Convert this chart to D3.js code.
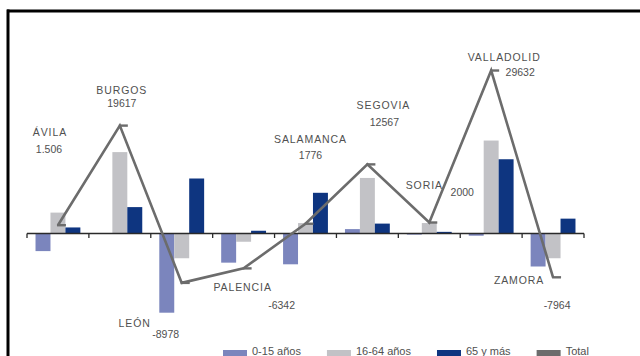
<!DOCTYPE html>
<html>
<head>
<meta charset="utf-8">
<script src="https://cdn.jsdelivr.net/npm/d3@7"></script>
<style>
  html, body { margin: 0; padding: 0; background: #fff; }
  svg { display: block; }
  text { font-family: "Liberation Sans", Arial, sans-serif; fill: #505050; }
</style>
</head>
<body>
<svg id="chart" width="640" height="356"></svg>
<script>
// Variación de población por provincia y grupo de edad
const provinces = ["ÁVILA", "BURGOS", "LEÓN", "PALENCIA", "SALAMANCA", "SEGOVIA", "SORIA", "VALLADOLID", "ZAMORA"];
const age0to15  = [-3200, 0, -14400, -5300, -5600, 800, -200, -400, -6000];
const age16to64 = [3800, 14800, -4500, -1500, 1900, 10100, 1900, 16900, -4500];
const age65plus = [1100, 4800, 10000, 500, 7400, 1800, 300, 13500, 2700];
const totals    = [1506, 19617, -8978, -6342, 1776, 12567, 2000, 29632, -7964];
const totalText = ["1.506", "19617", "-8978", "-6342", "1776", "12567", "2000", "29632", "-7964"];

const seriesKeys   = ["0-15 años", "16-64 años", "65 y más"];
const seriesValues = [age0to15, age16to64, age65plus];
const seriesColors = ["#7b85bd", "#c2c2c6", "#0e3580"];
const totalColor   = "#6c6c6c";

// label placement relative to each point of the total line: [name dx, name dy, value dx, value dy]
const labelOffsets = [
  [-8, -89, -9, -72],
  [2, -32, 2, -19],
  [-47, 44, -16, 55],
  [-1, 23, 38, 41],
  [5, -81, 5, -65],
  [16, -55, 17, -38],
  [-5, -34, 33, -27],
  [13, -10, 29, 5],
  [-34, 7, 4, 32]
];

const svg = d3.select("#chart");

// frame lines (top and left)
svg.append("line").attr("x1", 7).attr("x2", 640).attr("y1", 11).attr("y2", 11)
  .attr("stroke", "#000").attr("stroke-width", 3);
svg.append("line").attr("x1", 8).attr("x2", 8).attr("y1", 9.5).attr("y2", 356)
  .attr("stroke", "#000").attr("stroke-width", 3);

const x0 = d3.scaleBand().domain(provinces).range([27, 584]).padding(0);
const x1 = d3.scaleBand().domain(seriesKeys).range([0, x0.bandwidth()]).paddingInner(0).paddingOuter(0.57);
const y = d3.scaleLinear().domain([-18000, 36000]).range([332.5, 35.5]);

// bars
const barData = [];
provinces.forEach((p, i) => {
  seriesKeys.forEach((k, j) => {
    barData.push({ p, k, v: seriesValues[j][i], c: seriesColors[j] });
  });
});
svg.append("g").selectAll("rect").data(barData).join("rect")
  .attr("x", d => x0(d.p) + x1(d.k))
  .attr("width", x1.bandwidth())
  .attr("y", d => y(Math.max(0, d.v)))
  .attr("height", d => Math.abs(y(d.v) - y(0)))
  .attr("fill", d => d.c);

// zero axis with ticks at category boundaries
const axisG = svg.append("g").attr("transform", `translate(0,${y(0)})`);
axisG.append("line").attr("x1", x0.range()[0]).attr("x2", x0.range()[1])
  .attr("stroke", "#2a2a2a").attr("stroke-width", 1.5);
const tickXs = provinces.map(p => x0(p)).concat([x0.range()[1]]);
axisG.selectAll("line.tick").data(tickXs).join("line").attr("class", "tick")
  .attr("x1", d => d).attr("x2", d => d).attr("y1", 0).attr("y2", 4.5)
  .attr("stroke", "#2a2a2a").attr("stroke-width", 1.3);

// total line
const pts = provinces.map((p, i) => [x0(p) + x0.bandwidth() / 2, y(totals[i])]);
svg.append("path").datum(pts)
  .attr("d", d3.line())
  .attr("fill", "none").attr("stroke", totalColor).attr("stroke-width", 2.6)
  .attr("stroke-linejoin", "miter");
svg.append("g").selectAll("line").data(pts).join("line")
  .attr("x1", d => d[0] - 1).attr("x2", d => d[0] + 8)
  .attr("y1", d => d[1]).attr("y2", d => d[1])
  .attr("stroke", totalColor).attr("stroke-width", 2.4);

// province and total labels
const lab = svg.append("g").attr("font-size", 10.5).attr("text-anchor", "middle");
pts.forEach((pt, i) => {
  const o = labelOffsets[i];
  lab.append("text").attr("x", pt[0] + o[0]).attr("y", pt[1] + o[1])
    .attr("letter-spacing", 0.9).text(provinces[i]);
  lab.append("text").attr("x", pt[0] + o[2]).attr("y", pt[1] + o[3])
    .text(totalText[i]);
});

// legend
const legendItems = seriesKeys.map((k, j) => ({ k, c: seriesColors[j] })).concat([{ k: "Total", c: totalColor }]);
const legend = svg.append("g").attr("font-size", 11);
let lx = 223;
legendItems.forEach(it => {
  const g = legend.append("g").attr("transform", `translate(${lx},0)`);
  g.append("rect").attr("x", 0).attr("y", 350).attr("width", 24).attr("height", 7).attr("fill", it.c);
  const t = g.append("text").attr("x", 29).attr("y", 355).text(it.k);
  const w = t.node().getComputedTextLength();
  lx += 29 + w + 26;
});
</script>
</body>
</html>
